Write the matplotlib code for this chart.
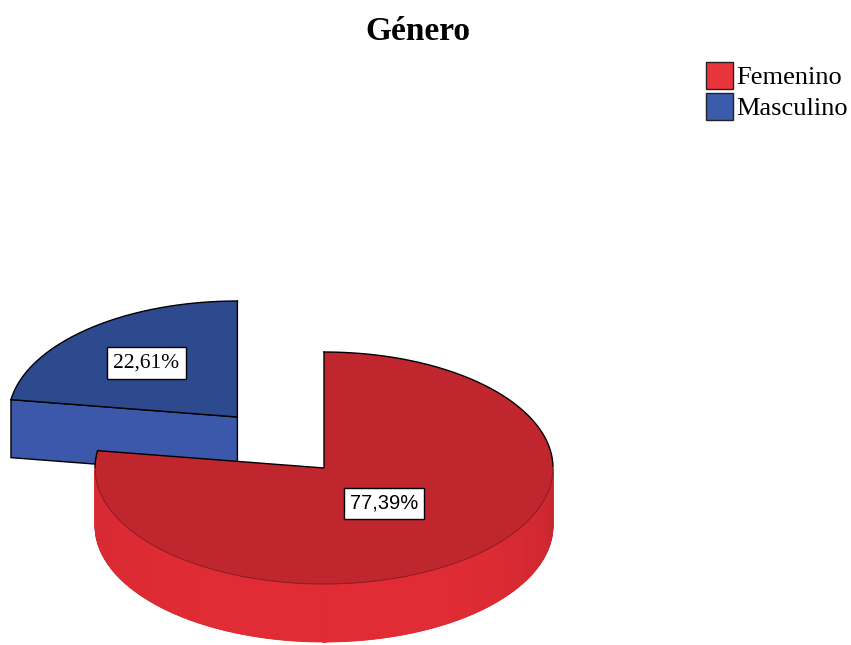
import numpy as np
import matplotlib.pyplot as plt
from matplotlib.colors import to_rgb
from matplotlib.patches import Polygon, Patch

# Gender distribution (percent)
categories = ['Femenino', 'Masculino']
shares = [77.39, 22.61]
labels = ['77,39%', '22,61%']

top_colors = ['#C0262E', '#2E4A8F']
side_colors = ['#E22C35', '#3B58AA']
legend_colors = ['#E8353C', '#3B5BAB']

# pie geometry in pixel space
cx, cy = 324, 468
rx, ry = 229, 116
depth = 58
explode = [0.0, 0.58]
label_r = [0.40, 0.61]


def ell(theta, ox, oy, dz=0.0):
    t = np.radians(theta)
    return np.column_stack([ox + rx * np.cos(t), oy - ry * np.sin(t) + dz])


fig = plt.figure(figsize=(8.51, 6.45), dpi=100)
ax = fig.add_axes([0, 0, 1, 1])
ax.set_xlim(0, 851)
ax.set_ylim(645, 0)
ax.axis('off')

# slices run clockwise from 12 o'clock
spans = []
start = 90.0
for s in shares:
    end = start - 360.0 * s / 100.0
    spans.append((end, start))
    start = end

# draw the exploded (back) slice first, then the big one
for i in [1, 0]:
    a0, a1 = spans[i]
    mid = np.radians((a0 + a1) / 2)
    ox = cx + explode[i] * rx * np.cos(mid)
    oy = cy - explode[i] * ry * np.sin(mid)
    thetas = np.linspace(a0, a1, 300)

    # outer wall, only the front half shows
    lo = max(a0, -180.0)
    hi = min(a1, 0.0)
    if hi > lo:
        base = np.array(to_rgb(side_colors[i]))
        arc = np.linspace(lo, hi, 200)
        wall = np.vstack([ell(arc, ox, oy), ell(arc[::-1], ox, oy, depth)])
        ax.add_patch(Polygon(wall, closed=True, facecolor=base * 0.97, edgecolor='none'))
        edges = np.linspace(lo, hi, 150)
        for t0, t1 in zip(edges[:-1], edges[1:]):
            u = ((t0 + t1) / 2 + 180) / 180  # 0 at left, 1 at right
            if u < 0.55:
                shade = 1.0 - 0.06 * (1 - u / 0.55) ** 2
            else:
                shade = 1.0 - 0.13 * ((u - 0.55) / 0.45) ** 2
            c = np.clip(base * shade, 0, 1)
            top = ell(np.array([t0, t1]), ox, oy)
            bot = ell(np.array([t1, t0]), ox, oy, depth)
            ax.add_patch(Polygon(np.vstack([top, bot]), closed=True,
                                 facecolor=c, edgecolor=c, lw=0.6))

    # radial cut faces that point toward the viewer
    for ang, sign in [(a0, -1), (a1, 1)]:
        normal = np.radians(ang + 90 * sign)
        if np.sin(normal) < -1e-6:
            p = ell(np.array([ang]), ox, oy)[0]
            face = np.array([[ox, oy], p, [p[0], p[1] + depth], [ox, oy + depth]])
            ax.add_patch(Polygon(face, closed=True, facecolor=side_colors[i],
                                 edgecolor='black', lw=1.0))

    # top face, black rim at the back, soft rim where it meets the wall
    rim = ell(thetas, ox, oy)
    ax.add_patch(Polygon(np.vstack([[ox, oy], rim]), closed=True,
                         facecolor=top_colors[i], edgecolor='none'))
    front = (thetas >= -180) & (thetas <= 0)
    ax.plot(rim[front, 0], rim[front, 1], color='#8A1A20', lw=0.7)
    for seg in [thetas < -180, thetas > 0]:
        if seg.sum() > 1:
            ax.plot(rim[seg, 0], rim[seg, 1], color='black', lw=1.0)
    p0 = ell(np.array([a0]), ox, oy)[0]
    p1 = ell(np.array([a1]), ox, oy)[0]
    ax.plot([p0[0], ox, p1[0]], [p0[1], oy, p1[1]], color='black', lw=1.0)

    lx = ox + label_r[i] * rx * np.cos(mid)
    ly = oy - label_r[i] * ry * np.sin(mid)
    fam = 'Liberation Sans' if i == 0 else 'Liberation Serif'
    fs = 14.5 if i == 0 else 15.5
    ax.text(lx, ly, labels[i], ha='center', va='center', fontsize=fs,
            family=fam,
            bbox=dict(boxstyle='square,pad=0.3', facecolor='white',
                      edgecolor='black', lw=1.0))

fig.text(418 / 851, 1 - 31 / 645, 'Género', ha='center', va='center',
         fontsize=24, fontweight='bold', family='Liberation Serif')

handles = [Patch(facecolor=legend_colors[k], edgecolor='#222222', label=categories[k])
           for k in range(len(categories))]
fig.legend(handles=handles, loc='upper right', bbox_to_anchor=(1 + 11 / 851, 1 - 47 / 645),
           frameon=False, prop={'family': 'Liberation Serif', 'size': 19},
           handlelength=1.05, handleheight=1.2, handletextpad=0.1,
           labelspacing=0.15, borderaxespad=0.15)

fig.savefig('out.png', dpi=100)
